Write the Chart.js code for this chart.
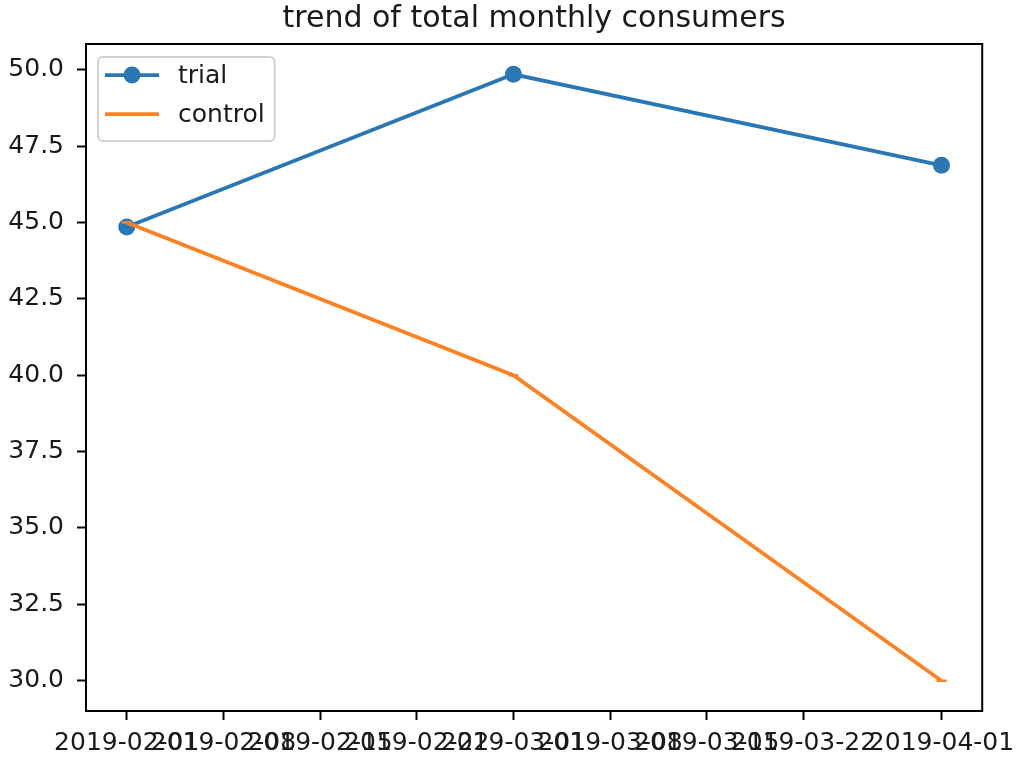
<!DOCTYPE html>
<html>
<head>
<meta charset="utf-8">
<script src="https://cdn.jsdelivr.net/npm/chart.js@4.4.1/dist/chart.umd.min.js"></script>
<style>
    html, body { margin: 0; padding: 0; background: #fff; }
    #wrap { width: 1024px; height: 769px; position: relative; }
</style>
</head>
<body>
<div id="wrap"><canvas id="trendChart"></canvas></div>
<script>
const months = ['2019-02-01', '2019-03-01', '2019-04-01'];
const trialValues = [44.85, 49.85, 46.87];
const controlValues = [45.0, 40.0, 30.0];
const xTickDates = ['2019-02-01', '2019-02-08', '2019-02-15', '2019-02-22', '2019-03-01',
    '2019-03-08', '2019-03-15', '2019-03-22', '2019-04-01'];
const yTickValues = [30, 32.5, 35, 37.5, 40, 42.5, 45, 47.5, 50];

const FONT = '"DejaVu Sans", "Liberation Sans", sans-serif';
const TEXT = '#1a1a1a';

const toMs = d => Date.parse(d + 'T00:00:00Z');
const fmtDate = ms => new Date(ms).toISOString().slice(0, 10);

// matplotlib style 5% margins around the data
function padRange(values, frac) {
    const lo = Math.min(...values);
    const hi = Math.max(...values);
    const pad = (hi - lo) * frac;
    return [lo - pad, hi + pad];
}

const [xMin, xMax] = padRange(months.map(toMs), 0.05);
const [yMin, yMax] = padRange(trialValues.concat(controlValues), 0.05);

const toPoints = vals => months.map((m, i) => ({ x: toMs(m), y: vals[i] }));

// frame, title and legend inside the axes, the way pyplot draws them
const axesDecor = {
    id: 'axesDecor',
    afterDatasetsDraw(chart) {
        const { ctx, chartArea } = chart;
        ctx.save();
        ctx.strokeStyle = '#000';
        ctx.lineWidth = 2;
        ctx.strokeRect(chartArea.left, chartArea.top,
            chartArea.right - chartArea.left, chartArea.bottom - chartArea.top);
        ctx.restore();
    },
    afterDraw(chart, args, opts) {
        const { ctx, chartArea } = chart;
        ctx.save();

        ctx.font = '30px ' + FONT;
        ctx.fillStyle = TEXT;
        ctx.textAlign = 'center';
        ctx.textBaseline = 'alphabetic';
        ctx.fillText(opts.title, (chartArea.left + chartArea.right) / 2, chartArea.top - 17);

        ctx.font = '25px ' + FONT;
        const items = chart.data.datasets;
        const textW = Math.max(...items.map(d => ctx.measureText(d.label).width));
        const bx = chartArea.left + 12;
        const by = chartArea.top + 13;
        const bw = 10 + 50 + 20 + textW + 10;
        const bh = 84;

        ctx.beginPath();
        ctx.roundRect(bx, by, bw, bh, 5);
        ctx.fillStyle = 'rgba(255,255,255,0.8)';
        ctx.fill();
        ctx.strokeStyle = '#d0d0d0';
        ctx.lineWidth = 2;
        ctx.stroke();

        items.forEach((ds, i) => {
            const cy = by + 18 + i * 39;
            ctx.strokeStyle = ds.borderColor;
            ctx.lineWidth = ds.borderWidth;
            ctx.beginPath();
            ctx.moveTo(bx + 7, cy);
            ctx.lineTo(bx + 61, cy);
            ctx.stroke();
            if (ds.pointStyle === 'circle') {
                ctx.fillStyle = ds.pointBackgroundColor;
                ctx.beginPath();
                ctx.arc(bx + 34, cy, ds.pointRadius, 0, Math.PI * 2);
                ctx.fill();
            }
            ctx.fillStyle = TEXT;
            ctx.textAlign = 'left';
            ctx.textBaseline = 'middle';
            ctx.fillText(ds.label, bx + 80, cy + 1);
        });
        ctx.restore();
    }
};

const ctx = document.getElementById('trendChart').getContext('2d');
new Chart(ctx, {
    type: 'line',
    data: {
        datasets: [
            {
                label: 'trial',
                data: toPoints(trialValues),
                borderColor: '#2a77b6',
                borderWidth: 3.75,
                pointStyle: 'circle',
                pointRadius: 8.5,
                pointBackgroundColor: '#2a77b6',
                pointBorderWidth: 0,
                tension: 0,
                order: 1
            },
            {
                label: 'control',
                data: toPoints(controlValues),
                borderColor: '#fd8223',
                borderWidth: 3.75,
                pointStyle: 'line',
                pointRadius: 5,
                pointBorderColor: '#fd8223',
                pointBorderWidth: 2.5,
                tension: 0,
                order: 0
            }
        ]
    },
    options: {
        responsive: true,
        maintainAspectRatio: false,
        animation: false,
        devicePixelRatio: 1,
        layout: { padding: { top: 44, right: 41, bottom: 0, left: 0 } },
        plugins: {
            legend: { display: false },
            tooltip: { enabled: false },
            axesDecor: { title: 'trend of total monthly consumers' }
        },
        scales: {
            x: {
                type: 'linear',
                min: xMin,
                max: xMax,
                afterBuildTicks: scale => {
                    scale.ticks = xTickDates.map(d => ({ value: toMs(d) }));
                },
                afterFit: scale => { scale.height = 58; },
                border: { display: false },
                grid: {
                    drawOnChartArea: false,
                    drawTicks: true,
                    tickLength: 9,
                    tickWidth: 2,
                    tickColor: '#000'
                },
                ticks: {
                    autoSkip: false,
                    maxRotation: 0,
                    minRotation: 0,
                    padding: 8,
                    color: TEXT,
                    font: { family: FONT, size: 25 },
                    callback: v => fmtDate(v)
                }
            },
            y: {
                min: yMin,
                max: yMax,
                afterBuildTicks: scale => {
                    scale.ticks = yTickValues.map(v => ({ value: v }));
                },
                afterFit: scale => { scale.width = 86; },
                border: { display: false },
                grid: {
                    drawOnChartArea: false,
                    drawTicks: true,
                    tickLength: 9,
                    tickWidth: 2,
                    tickColor: '#000'
                },
                ticks: {
                    padding: 13,
                    color: TEXT,
                    font: { family: FONT, size: 25 },
                    callback: v => v.toFixed(1)
                }
            }
        }
    },
    plugins: [axesDecor]
});
</script>
</body>
</html>
